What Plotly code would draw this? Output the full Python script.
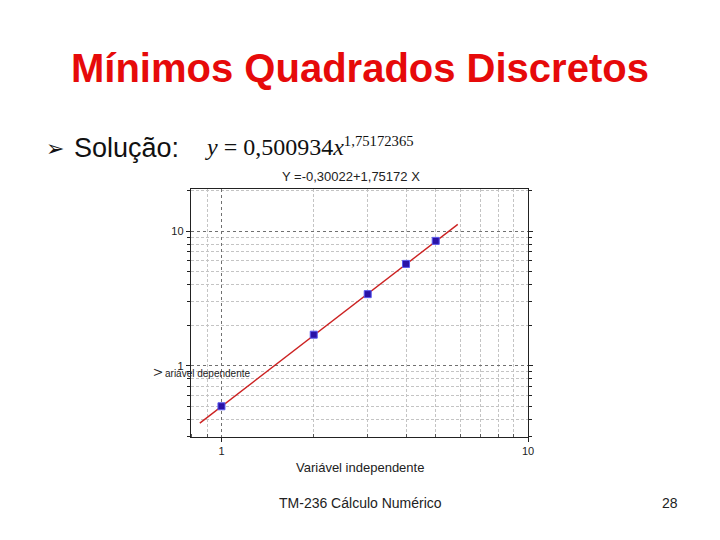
import plotly.graph_objects as go

# ---- data ----
x_data = [1, 2, 3, 4, 5]
y_data = [0.50, 1.70, 3.40, 5.70, 8.45]
fit_x = [0.85, 5.9]
fit_y = [0.375, 11.2]

x_tickvals = [1, 10]
x_ticktext = ["1", "10"]
x_minor = [0.8, 0.9, 2, 3, 4, 5, 6, 7, 8, 9]
y_tickvals = [1, 10]
y_ticktext = ["1", "10"]
y_minor = [0.3, 0.4, 0.5, 0.6, 0.7, 0.8, 0.9, 2, 3, 4, 5, 6, 7, 8, 9, 20]

W, H = 720, 540
KX = 1.009  # small horizontal correction observed in the rendered page
SANS = "Liberation Sans, Arial, sans-serif"


def px(x):
    return x * KX / W


def py(y):
    return 1 - y / H


fig = go.Figure()
fig.add_trace(go.Scatter(x=fit_x, y=fit_y, mode="lines",
                         line=dict(color="#cc2222", width=1.4),
                         showlegend=False, hoverinfo="skip"))
fig.add_trace(go.Scatter(x=x_data, y=y_data, mode="markers",
                         marker=dict(symbol="square", size=7, color="#2a12a6",
                                     line=dict(color="#5a5af0", width=1)),
                         showlegend=False))

axis_common = dict(
    type="log", showline=True, linecolor="#222", linewidth=1,
    showgrid=True, gridcolor="#707070", griddash="dot", gridwidth=1,
    zeroline=False, tickfont=dict(family=SANS, size=11, color="#222"),
    ticks="outside", ticklen=4, tickcolor="#222",
)
minor_common = dict(tickmode="array", showgrid=True, gridcolor="#c4c4c4",
                    griddash="3px,2px", gridwidth=0.8)

fig.update_layout(
    width=W, height=H, margin=dict(l=0, r=0, t=0, b=0),
    paper_bgcolor="white", plot_bgcolor="white",
    xaxis=dict(**axis_common, domain=[px(190.7), px(527.7)], range=[-0.1, 1.0],
               tickmode="array", tickvals=x_tickvals, ticktext=x_ticktext,
               mirror=True,
               minor=dict(**minor_common, tickvals=x_minor,
                          ticks="inside", ticklen=3, tickcolor="#555")),
    yaxis=dict(**axis_common, domain=[py(437), py(189)], range=[-0.529, 1.312],
               tickmode="array", tickvals=y_tickvals, ticktext=y_ticktext,
               mirror="allticks",
               minor=dict(**minor_common, tickvals=y_minor,
                          ticks="outside", ticklen=3, tickcolor="#222")),
)

ann = []
ann.append(dict(text="<b>Mínimos Quadrados Discretos</b>", x=px(360), y=py(68),
                font=dict(family=SANS, size=40, color="#e60a0a")))
ann.append(dict(text="➢", x=px(55), y=py(148),
                font=dict(family="DejaVu Sans", size=22, color="#111")))
ann.append(dict(text="Solução:", x=px(72), y=py(148), xanchor="left",
                font=dict(family=SANS, size=27, color="#111")))
ann.append(dict(text="<i>y</i> = 0,500934<i>x</i><span style='font-size:21px'><sup>1,75172365</sup></span>",
                x=px(203), y=py(146), xanchor="left",
                font=dict(family="Liberation Serif, Times New Roman, serif", size=24, color="#111")))
ann.append(dict(text="Y =-0,30022+1,75172 X", x=px(351), y=py(176),
                font=dict(family=SANS, size=13, color="#222")))
ann.append(dict(text="Variável independente", x=px(360), y=py(467),
                font=dict(family=SANS, size=13, color="#222")))
ann.append(dict(text="V", x=px(158), y=py(372), textangle=-90,
                font=dict(family=SANS, size=11, color="#222")))
ann.append(dict(text="ariável dependente", x=px(163), y=py(373), xanchor="left",
                font=dict(family=SANS, size=10, color="#222")))
ann.append(dict(text="TM-236 Cálculo Numérico", x=px(360), y=py(503),
                font=dict(family=SANS, size=14, color="#222")))
ann.append(dict(text="28", x=px(670), y=py(503),
                font=dict(family=SANS, size=14, color="#222")))

for a in ann:
    a.setdefault("xanchor", "center")
    a.update(xref="paper", yref="paper", yanchor="middle", showarrow=False)
fig.update_layout(annotations=ann)

fig.write_html("out.html", config={"displayModeBar": False},
               post_script="document.body.style.margin='0';document.body.style.overflow='hidden';")
